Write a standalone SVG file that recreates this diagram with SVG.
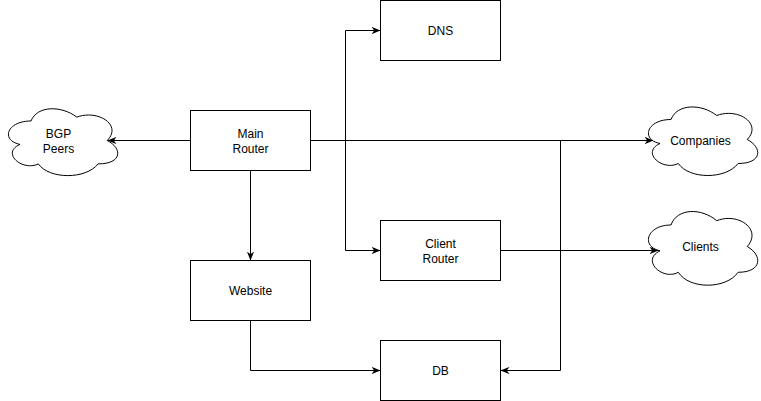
<svg xmlns="http://www.w3.org/2000/svg" width="761" height="401" viewBox="0 0 761 401">
<style>
.box{fill:#fff;stroke:#000;stroke-width:1}
.edge{fill:none;stroke:#000;stroke-width:1}
text{font-family:"Liberation Sans",Arial,sans-serif;font-size:12px;fill:#000;text-anchor:middle}
</style>
<defs>
<marker id="arr" viewBox="0 0 10 8" refX="10" refY="4" markerWidth="9" markerHeight="7.2" markerUnits="userSpaceOnUse" orient="auto">
<path d="M0,0 L10,4 L0,8 L3,4 Z" fill="#000"/>
</marker>
</defs>
<rect width="761" height="401" fill="#fff"/>
<g transform="translate(0.5,0.5)">
<g id="connectors">
<path class="edge" d="M190,140 H107" marker-end="url(#arr)"/>
<path class="edge" d="M310,140 H653" marker-end="url(#arr)"/>
<path class="edge" d="M345,140 V30 H380" marker-end="url(#arr)"/>
<path class="edge" d="M345,140 V250 H380" marker-end="url(#arr)"/>
<path class="edge" d="M560,140 V370 H500" marker-end="url(#arr)"/>
<path class="edge" d="M250,170 V260" marker-end="url(#arr)"/>
<path class="edge" d="M250,320 V370 H380" marker-end="url(#arr)"/>
<path class="edge" d="M500,250 H658" marker-end="url(#arr)"/>
</g>
<g id="main-router">
<rect class="box" x="190" y="110" width="120" height="60"/>
<text x="250" y="137">Main</text>
<text x="250" y="152">Router</text>
</g>
<g id="dns">
<rect class="box" x="380" y="0" width="120" height="60"/>
<text x="440" y="34">DNS</text>
</g>
<g id="client-router">
<rect class="box" x="380" y="220" width="120" height="60"/>
<text x="440" y="247">Client</text>
<text x="440" y="262">Router</text>
</g>
<g id="website">
<rect class="box" x="190" y="260" width="120" height="60"/>
<text x="250" y="294">Website</text>
</g>
<g id="db">
<rect class="box" x="380" y="340" width="120" height="60"/>
<text x="440" y="374">DB</text>
</g>
<g id="bgp-peers">
<path class="box" d="M30.5,120.5 C6.1,120.5 0,140 19.52,143.9 C0,152.48 21.96,171.2 37.82,163.4 C48.8,179 85.4,179 97.6,163.4 C122,163.4 122,147.8 106.75,140 C122,124.4 97.6,108.8 76.25,116.6 C61,104.9 36.6,104.9 30.5,120.5 Z"/>
<text x="58" y="137">BGP</text>
<text x="58" y="152">Peers</text>
</g>
<g id="companies">
<path class="box" d="M670.5,119 C646.1,119 640,139 659.52,143 C640,151.8 661.96,171 677.82,163 C688.8,179 725.4,179 737.6,163 C762,163 762,147 746.75,139 C762,123 737.6,107 716.25,115 C701,103 676.6,103 670.5,119 Z"/>
<text x="700" y="144">Companies</text>
</g>
<g id="clients">
<path class="box" d="M670.5,224.5 C646.1,224.5 640,246 659.52,250.3 C640,259.76 661.96,280.4 677.82,271.8 C688.8,289 725.4,289 737.6,271.8 C762,271.8 762,254.6 746.75,246 C762,228.8 737.6,211.6 716.25,220.2 C701,207.3 676.6,207.3 670.5,224.5 Z"/>
<text x="700" y="250">Clients</text>
</g>
</g>
</svg>
